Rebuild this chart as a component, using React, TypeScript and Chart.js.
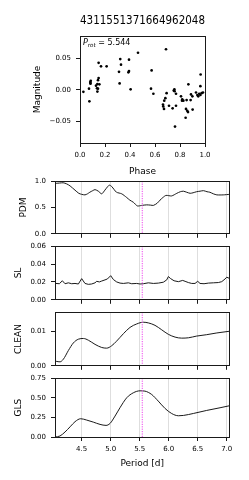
import React, { useEffect, useRef } from "react";
import { Chart, registerables } from "chart.js";

Chart.register(...registerables);

const FONT = "'DejaVu Sans', 'Noto Sans', sans-serif";
Chart.defaults.font.family = FONT;
Chart.defaults.color = "#000";

// ---------------- data ----------------
const STAR_ID = "4311551371664962048";
const P_ROT = 5.544;

const PHASE = [
  0.027, 0.072, 0.075, 0.084, 0.082, 0.086, 0.083, 0.128, 0.139, 0.155, 0.136, 0.144, 0.139, 0.144, 0.149, 0.149,
  0.168, 0.213, 0.312, 0.317, 0.322, 0.328, 0.387, 0.392, 0.392, 0.405, 0.464, 0.573, 0.568, 0.587, 0.688,
  0.693, 0.755, 0.757, 0.75, 0.768, 0.683, 0.674, 0.664, 0.666, 0.672, 0.712, 0.741, 0.768, 0.76, 0.808, 0.818,
  0.827, 0.816, 0.853, 0.888, 0.899, 0.885, 0.848, 0.858, 0.864, 0.901, 0.845, 0.867, 0.928, 0.939, 0.946, 0.954,
  0.963, 0.973, 0.984, 0.963, 0.965,
];
const MAG = [
  -0.003, 0.002, -0.018, 0.01, 0.0125, 0.0145, 0.011, 0.0068, 0.0094, 0.009, 0.0026, 0.002, -0.0026, 0.0156, 0.019, 0.043,
  0.0375, 0.0375, 0.0287, 0.0104, 0.049, 0.04, 0.028, 0.03, 0.048, 0.001, 0.059, 0.031, 0.002, -0.006, 0.0645,
  -0.005, 0.001, -0.002, -0.001, -0.006, -0.013, -0.017, -0.023, -0.026, -0.03, -0.025, -0.029, -0.025, -0.058, -0.01, -0.015,
  -0.017, -0.017, -0.016, -0.007, -0.01, -0.016, -0.03, -0.033, -0.035, -0.031, -0.044, 0.009, -0.004, -0.008, -0.01, -0.006,
  -0.008, -0.005, -0.004, 0.006, 0.0245,
];
const PHASE_TICKS = [0, 0.2, 0.4, 0.6, 0.8, 1.0];
const MAG_TICKS = [-0.05, 0, 0.05];

const PERIOD_TICKS = [4.5, 5.0, 5.5, 6.0, 6.5, 7.0];

const PDM_P = [
  4.04, 4.06, 4.12, 4.18, 4.24, 4.3, 4.385, 4.45, 4.5, 4.557, 4.6, 4.64, 4.69, 4.73, 4.787, 4.845, 4.9, 4.95, 4.977,
  5.017, 5.06, 5.1, 5.19, 5.276, 5.33, 5.39, 5.46, 5.534, 5.62, 5.69, 5.736, 5.8, 5.85, 5.9, 5.954, 6.05, 6.14, 6.2,
  6.253, 6.31, 6.37, 6.42, 6.48, 6.54, 6.6, 6.66, 6.71, 6.77, 6.83, 6.94, 7.05,
];
const PDM_V = [
  0.96, 0.96, 0.965, 0.97, 0.95, 0.91, 0.83, 0.77, 0.75, 0.74, 0.76, 0.79, 0.82, 0.84, 0.81, 0.76, 0.83, 0.9, 0.925,
  0.9, 0.84, 0.79, 0.76, 0.69, 0.64, 0.6, 0.53, 0.54, 0.55, 0.545, 0.54, 0.58, 0.64, 0.69, 0.73, 0.72, 0.77, 0.8,
  0.81, 0.79, 0.77, 0.78, 0.8, 0.81, 0.82, 0.8, 0.79, 0.76, 0.74, 0.74, 0.75,
];
const PDM_TICKS = [0, 0.5, 1.0];

const SL_P = [
  4.04, 4.057, 4.115, 4.167, 4.213, 4.27, 4.328, 4.385, 4.443, 4.5, 4.557, 4.615, 4.672, 4.73, 4.759, 4.805, 4.845,
  4.902, 4.943, 5.0, 5.046, 5.103, 5.161, 5.218, 5.305, 5.362, 5.448, 5.506, 5.563, 5.649, 5.736, 5.822, 5.908, 5.966,
  5.994, 6.034, 6.092, 6.167, 6.241, 6.282, 6.339, 6.397, 6.454, 6.5, 6.54, 6.609, 6.684, 6.77, 6.856, 6.914, 6.971,
  7.0, 7.057,
];
const SL_V = [
  0.0185, 0.0183, 0.018, 0.0213, 0.018, 0.019, 0.018, 0.0183, 0.0177, 0.0237, 0.0183, 0.0173, 0.0177, 0.019, 0.0207,
  0.02, 0.021, 0.0223, 0.0233, 0.027, 0.0227, 0.02, 0.0187, 0.0183, 0.019, 0.018, 0.0183, 0.0177, 0.018, 0.019, 0.0183,
  0.0187, 0.0197, 0.0223, 0.026, 0.0237, 0.0213, 0.0203, 0.0217, 0.0207, 0.0193, 0.0183, 0.0183, 0.0207, 0.0183, 0.018,
  0.0187, 0.019, 0.0193, 0.0203, 0.0233, 0.0253, 0.0237,
];
const SL_TICKS = [0, 0.02, 0.04, 0.06];

const CLEAN_P = [
  4.04, 4.06, 4.126, 4.184, 4.27, 4.356, 4.443, 4.53, 4.615, 4.73, 4.845, 4.93, 5.017, 5.1, 5.22, 5.333, 5.448, 5.563,
  5.65, 5.764, 5.88, 5.994, 6.11, 6.224, 6.34, 6.483, 6.655, 6.83, 7.05,
];
const CLEAN_V = [
  0.0014, 0.0013, 0.00115, 0.0019, 0.0044, 0.0066, 0.0077, 0.0079, 0.0074, 0.0062, 0.0053, 0.0051, 0.0058, 0.0071,
  0.0093, 0.0111, 0.0121, 0.0126, 0.0124, 0.0117, 0.0104, 0.0091, 0.0083, 0.008, 0.0081, 0.0086, 0.009, 0.0095, 0.01,
];
const CLEAN_TICKS = [0, 0.01];

const GLS_P = [
  4.04, 4.126, 4.213, 4.3, 4.385, 4.483, 4.586, 4.7, 4.816, 4.92, 4.99, 5.075, 5.16, 5.276, 5.39, 5.506, 5.59, 5.707,
  5.82, 5.937, 6.05, 6.167, 6.253, 6.425, 6.655, 6.885, 7.057,
];
const GLS_V = [
  0.0, 0.013, 0.064, 0.13, 0.195, 0.233, 0.216, 0.19, 0.161, 0.148, 0.174, 0.267, 0.373, 0.5, 0.564, 0.589, 0.585,
  0.542, 0.458, 0.364, 0.3, 0.271, 0.275, 0.3, 0.339, 0.373, 0.4,
];
const GLS_TICKS = [0, 0.25, 0.5, 0.75];

// ---------------- styling / layout ----------------
const INK = "#1a1a1a";
const W = 249;
const PERIOD_MIN = 4.04;
const PERIOD_MAX = 7.048;

const al = (p: number) => Math.round(p - 0.5) + 0.5;

const boxPlugin = {
  id: "box",
  afterDraw(chart: any) {
    const { ctx, chartArea } = chart;
    const l = al(chartArea.left), r = al(chartArea.right), t = al(chartArea.top), b = al(chartArea.bottom);
    ctx.save();
    ctx.strokeStyle = INK;
    ctx.lineWidth = 1;
    ctx.strokeRect(l, t, r - l, b - t);
    ctx.restore();
  },
};

const protLinePlugin = {
  id: "protLine",
  afterDatasetsDraw(chart: any) {
    const { ctx, chartArea, scales } = chart;
    const x = scales.x.getPixelForValue(P_ROT);
    ctx.save();
    ctx.beginPath();
    ctx.strokeStyle = "#ee44ee";
    ctx.lineWidth = 1;
    ctx.setLineDash([1.2, 1.2]);
    ctx.moveTo(x, chartArea.top);
    ctx.lineTo(x, chartArea.bottom);
    ctx.stroke();
    ctx.restore();
  },
};

const protLabelPlugin = {
  id: "protLabel",
  afterDraw(chart: any) {
    const { ctx, chartArea } = chart;
    let x = chartArea.left + 3;
    const y = chartArea.top + 9;
    ctx.save();
    ctx.fillStyle = "#000";
    ctx.textAlign = "left";
    ctx.textBaseline = "alphabetic";
    ctx.font = `italic 8px ${FONT}`;
    ctx.fillText("P", x, y);
    x += ctx.measureText("P").width;
    ctx.font = `italic 5.6px ${FONT}`;
    ctx.fillText("rot", x, y + 1.8);
    x += ctx.measureText("rot").width;
    ctx.font = `8px ${FONT}`;
    ctx.fillText(` = ${P_ROT.toFixed(3)}`, x, y);
    ctx.restore();
  },
};

const fmt = (v: number, d: number) => (v < 0 ? "\u2212" + Math.abs(v).toFixed(d) : v.toFixed(d));

function topConfig(): any {
  return {
    type: "scatter",
    data: {
      datasets: [
        {
          data: PHASE.map((p, i) => ({ x: p, y: MAG[i] })),
          pointRadius: 1.35,
          pointBackgroundColor: "#000",
          pointBorderWidth: 0,
          showLine: false,
        },
      ],
    },
    options: {
      responsive: false,
      animation: false,
      devicePixelRatio: 1,
      layout: { padding: { left: 0, top: 0, right: 44, bottom: 0 } },
      plugins: {
        legend: { display: false },
        tooltip: { enabled: false },
        title: {
          display: true,
          fullSize: false,
          text: STAR_ID,
          color: "#000",
          font: { size: 11.5, weight: "normal", family: FONT },
          padding: { top: 14, bottom: 8.2 },
        },
      },
      scales: {
        x: {
          type: "linear",
          min: 0,
          max: 1,
          bounds: "data",
          afterBuildTicks: (s: any) => {
            s.ticks = PHASE_TICKS.map((v) => ({ value: v }));
          },
          afterFit: (s: any) => {
            s.height = 42;
          },
          ticks: { font: { size: 7 }, padding: 4.3, color: "#000", maxRotation: 0, autoSkip: false, callback: (v: any) => fmt(Number(v), 1) },
          grid: { drawOnChartArea: false, tickLength: 4, tickColor: INK },
          border: { color: INK, width: 1 },
          title: { display: true, text: "Phase", color: "#000", font: { size: 9 }, padding: { top: 0, bottom: 7.6 } },
        },
        y: {
          type: "linear",
          min: -0.084,
          max: 0.0855,
          bounds: "data",
          afterBuildTicks: (s: any) => {
            s.ticks = MAG_TICKS.map((v) => ({ value: v }));
          },
          afterFit: (s: any) => {
            s.width = 80;
          },
          ticks: { font: { size: 7 }, padding: 5, color: "#000", autoSkip: false, callback: (v: any) => fmt(Number(v), 2) },
          grid: { drawOnChartArea: false, tickLength: 4, tickColor: INK },
          border: { color: INK, width: 1 },
          title: { display: true, text: "Magnitude", color: "#000", font: { size: 9 }, padding: { top: 32.6, bottom: 0 } },
        },
      },
    },
    plugins: [boxPlugin, protLabelPlugin],
  };
}

interface PanelSpec {
  label: string;
  p: number[];
  v: number[];
  max: number;
  ticks: number[];
  dec: number;
  top: number;
  h: number;
  xh: number;
  titleX: number;
  mono: boolean;
  tension: number;
  last: boolean;
}

const PANELS: PanelSpec[] = [
  { label: "PDM", p: PDM_P, v: PDM_V, max: 1.0, ticks: PDM_TICKS, dec: 1, top: 180, h: 58, xh: 5, titleX: 23.5, mono: false, tension: 0.25, last: false },
  { label: "SL", p: SL_P, v: SL_V, max: 0.06, ticks: SL_TICKS, dec: 2, top: 245, h: 59, xh: 5, titleX: 18.5, mono: false, tension: 0, last: false },
  { label: "CLEAN", p: CLEAN_P, v: CLEAN_V, max: 0.0155, ticks: CLEAN_TICKS, dec: 2, top: 311, h: 59, xh: 5, titleX: 19, mono: true, tension: 0.4, last: false },
  { label: "GLS", p: GLS_P, v: GLS_V, max: 0.75, ticks: GLS_TICKS, dec: 2, top: 377, h: 60, xh: 35, titleX: 19, mono: true, tension: 0.4, last: true },
];

function panelConfig(pn: PanelSpec): any {
  return {
    type: "line",
    data: {
      datasets: [
        {
          data: pn.p.map((x, i) => ({ x, y: pn.v[i] })),
          borderColor: INK,
          borderWidth: 1,
          pointRadius: 0,
          fill: false,
          tension: pn.tension,
          cubicInterpolationMode: pn.mono ? "monotone" : "default",
        },
      ],
    },
    options: {
      responsive: false,
      animation: false,
      devicePixelRatio: 1,
      layout: { padding: { left: 0, top: 8, right: 19.5, bottom: 0 } },
      plugins: { legend: { display: false }, tooltip: { enabled: false } },
      scales: {
        x: {
          type: "linear",
          min: PERIOD_MIN,
          max: PERIOD_MAX,
          bounds: "data",
          afterBuildTicks: (s: any) => {
            s.ticks = PERIOD_TICKS.map((v) => ({ value: v }));
          },
          afterFit: (s: any) => {
            s.height = pn.xh;
          },
          ticks: { display: pn.last, font: { size: 7 }, padding: 4.1, color: "#000", maxRotation: 0, autoSkip: false, callback: (v: any) => fmt(Number(v), 1) },
          grid: { color: "#dedede", lineWidth: 1, tickColor: INK, tickLength: 4, drawOnChartArea: true },
          border: { color: INK, width: 1 },
          title: { display: pn.last, text: "Period [d]", color: "#000", font: { size: 9 }, padding: { top: 0, bottom: 3.1 } },
        },
        y: {
          type: "linear",
          min: 0,
          max: pn.max,
          bounds: "data",
          afterBuildTicks: (s: any) => {
            s.ticks = pn.ticks.map((v) => ({ value: v }));
          },
          afterFit: (s: any) => {
            s.width = 55;
          },
          ticks: { font: { size: 7 }, padding: 5, color: "#000", autoSkip: false, callback: (v: any) => fmt(Number(v), pn.dec) },
          grid: { drawOnChartArea: false, tickLength: 4, tickColor: INK },
          border: { color: INK, width: 1 },
          title: { display: true, text: pn.label, color: "#000", font: { size: 9 }, padding: { top: pn.titleX - 5.4, bottom: 0 } },
        },
      },
    },
    plugins: [protLinePlugin, boxPlugin],
  };
}

function ChartBox(props: { left: number; top: number; width: number; height: number; make: () => any }) {
  const ref = useRef<HTMLCanvasElement>(null);
  useEffect(() => {
    if (!ref.current) return;
    const chart = new Chart(ref.current, props.make());
    return () => chart.destroy();
  }, []);
  return (
    <canvas
      ref={ref}
      width={props.width}
      height={props.height}
      style={{ position: "absolute", left: props.left, top: props.top, width: props.width, height: props.height }}
    />
  );
}

export default function App() {
  return (
    <div style={{ position: "absolute", left: 0, top: 0, width: W, height: 480, background: "#fff", overflow: "hidden" }}>
      <ChartBox left={0} top={0} width={W} height={185} make={topConfig} />
      {PANELS.map((pn) => (
        <ChartBox key={pn.label} left={0} top={pn.top - 8} width={W} height={8 + pn.h + pn.xh} make={() => panelConfig(pn)} />
      ))}
    </div>
  );
}
